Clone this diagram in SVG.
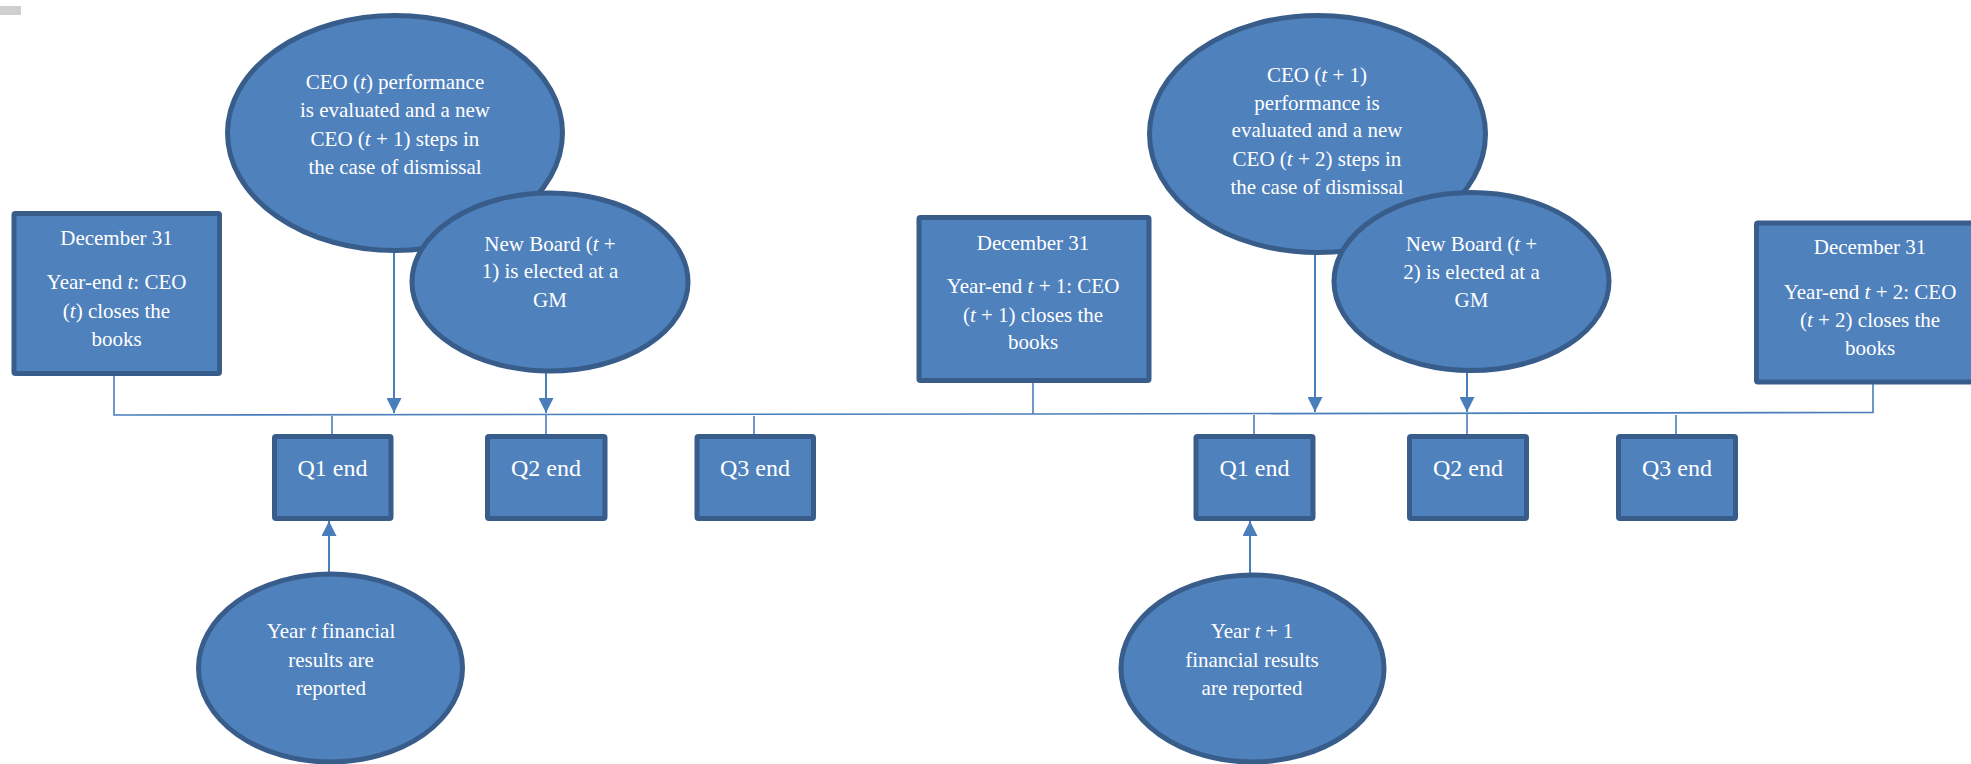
<svg xmlns="http://www.w3.org/2000/svg" width="1971" height="764" viewBox="0 0 1971 764">
<style>
.n{fill:#4f81bd;stroke:#385d8a;stroke-width:5}
.t{font-family:"Liberation Serif","Times New Roman",serif;font-size:21px;fill:#ffffff;text-anchor:middle}
.q{font-size:24px}
.c{fill:none;stroke:#4a7ebb;stroke-width:2}
.thin{fill:none;stroke:#4a7ebb;stroke-width:1.6}
.i{font-style:italic}
</style>
<defs>
<marker id="ah" viewBox="0 0 10 10" refX="10" refY="5" markerWidth="15" markerHeight="15" markerUnits="userSpaceOnUse" orient="auto">
<path d="M0,0 L10,5 L0,10 z" fill="#4a7ebb"/>
</marker>
</defs>
<rect x="0" y="6" width="21" height="9" fill="#cfcfcf"/>
<g id="connectors">
<polyline class="thin" points="114,376 114,415 1033,414 1873,412.5 1873,384"/>
<line class="thin" x1="1033" y1="383" x2="1033" y2="414"/>
<line class="c" x1="394" y1="252" x2="394" y2="413" marker-end="url(#ah)"/>
<line class="c" x1="546" y1="372" x2="546" y2="413" marker-end="url(#ah)"/>
<line class="c" x1="1315" y1="254" x2="1315" y2="412" marker-end="url(#ah)"/>
<line class="c" x1="1467" y1="372" x2="1467" y2="412" marker-end="url(#ah)"/>
<line class="thin" x1="332" y1="416" x2="332" y2="434"/>
<line class="thin" x1="546" y1="415" x2="546" y2="434"/>
<line class="thin" x1="754" y1="416" x2="754" y2="434"/>
<line class="thin" x1="1254" y1="415" x2="1254" y2="434"/>
<line class="thin" x1="1467" y1="414" x2="1467" y2="434"/>
<line class="thin" x1="1676" y1="415" x2="1676" y2="434"/>
<line class="c" x1="329" y1="573" x2="329" y2="521" marker-end="url(#ah)"/>
<line class="c" x1="1250" y1="574" x2="1250" y2="521" marker-end="url(#ah)"/>
</g>
<g id="dec31-t">
<rect class="n" x="14" y="213.5" width="205.5" height="160" rx="1.5"/>
<text class="t" x="116.5" y="245">December 31</text>
<text class="t" x="116.5" y="289">Year-end <tspan class="i">t</tspan>: CEO</text>
<text class="t" x="116.5" y="318">(<tspan class="i">t</tspan>) closes the</text>
<text class="t" x="116.5" y="346">books</text>
</g>
<g id="ceo-t">
<ellipse class="n" cx="395" cy="133" rx="167.5" ry="117.5"/>
<text class="t" x="395" y="89">CEO (<tspan class="i">t</tspan>) performance</text>
<text class="t" x="395" y="117">is evaluated and a new</text>
<text class="t" x="395" y="146">CEO (<tspan class="i">t</tspan> + 1) steps in</text>
<text class="t" x="395" y="174">the case of dismissal</text>
</g>
<g id="board-t1">
<ellipse class="n" cx="550" cy="282" rx="138" ry="89"/>
<text class="t" x="550" y="251">New Board (<tspan class="i">t</tspan> +</text>
<text class="t" x="550" y="278">1) is elected at a</text>
<text class="t" x="550" y="307">GM</text>
</g>
<g id="dec31-t1">
<rect class="n" x="919" y="217.5" width="230" height="163" rx="1.5"/>
<text class="t" x="1033" y="250">December 31</text>
<text class="t" x="1033" y="293">Year-end <tspan class="i">t</tspan> + 1: CEO</text>
<text class="t" x="1033" y="322">(<tspan class="i">t</tspan> + 1) closes the</text>
<text class="t" x="1033" y="349">books</text>
</g>
<g id="ceo-t1">
<ellipse class="n" cx="1317.5" cy="134" rx="168" ry="118.5"/>
<text class="t" x="1317" y="82">CEO (<tspan class="i">t</tspan> + 1)</text>
<text class="t" x="1317" y="110">performance is</text>
<text class="t" x="1317" y="137">evaluated and a new</text>
<text class="t" x="1317" y="166">CEO (<tspan class="i">t</tspan> + 2) steps in</text>
<text class="t" x="1317" y="194">the case of dismissal</text>
</g>
<g id="board-t2">
<ellipse class="n" cx="1471.5" cy="281.5" rx="137.5" ry="89"/>
<text class="t" x="1471.5" y="251">New Board (<tspan class="i">t</tspan> +</text>
<text class="t" x="1471.5" y="279">2) is elected at a</text>
<text class="t" x="1471.5" y="307">GM</text>
</g>
<g id="dec31-t2">
<rect class="n" x="1756.5" y="223" width="230" height="159" rx="1.5"/>
<text class="t" x="1870" y="254">December 31</text>
<text class="t" x="1870" y="299">Year-end <tspan class="i">t</tspan> + 2: CEO</text>
<text class="t" x="1870" y="327">(<tspan class="i">t</tspan> + 2) closes the</text>
<text class="t" x="1870" y="355">books</text>
</g>
<g id="q1-t">
<rect class="n" x="274.5" y="436.5" width="116.5" height="82" rx="1.5"/>
<text class="t q" x="332.5" y="476">Q1 end</text>
</g>
<g id="q2-t">
<rect class="n" x="487.5" y="436.5" width="117.5" height="82" rx="1.5"/>
<text class="t q" x="546" y="476">Q2 end</text>
</g>
<g id="q3-t">
<rect class="n" x="697" y="436.5" width="116.5" height="82" rx="1.5"/>
<text class="t q" x="755" y="476">Q3 end</text>
</g>
<g id="q1-t1">
<rect class="n" x="1196" y="436.5" width="117" height="82" rx="1.5"/>
<text class="t q" x="1254.5" y="476">Q1 end</text>
</g>
<g id="q2-t1">
<rect class="n" x="1409.5" y="436.5" width="117" height="82" rx="1.5"/>
<text class="t q" x="1468" y="476">Q2 end</text>
</g>
<g id="q3-t1">
<rect class="n" x="1618.5" y="436.5" width="117" height="82" rx="1.5"/>
<text class="t q" x="1677" y="476">Q3 end</text>
</g>
<g id="results-t">
<ellipse class="n" cx="330.5" cy="668" rx="132" ry="94"/>
<text class="t" x="331" y="638">Year <tspan class="i">t</tspan> financial</text>
<text class="t" x="331" y="667">results are</text>
<text class="t" x="331" y="695">reported</text>
</g>
<g id="results-t1">
<ellipse class="n" cx="1252.5" cy="668.5" rx="131.5" ry="93.5"/>
<text class="t" x="1252" y="638">Year <tspan class="i">t</tspan> + 1</text>
<text class="t" x="1252" y="667">financial results</text>
<text class="t" x="1252" y="695">are reported</text>
</g>
</svg>
